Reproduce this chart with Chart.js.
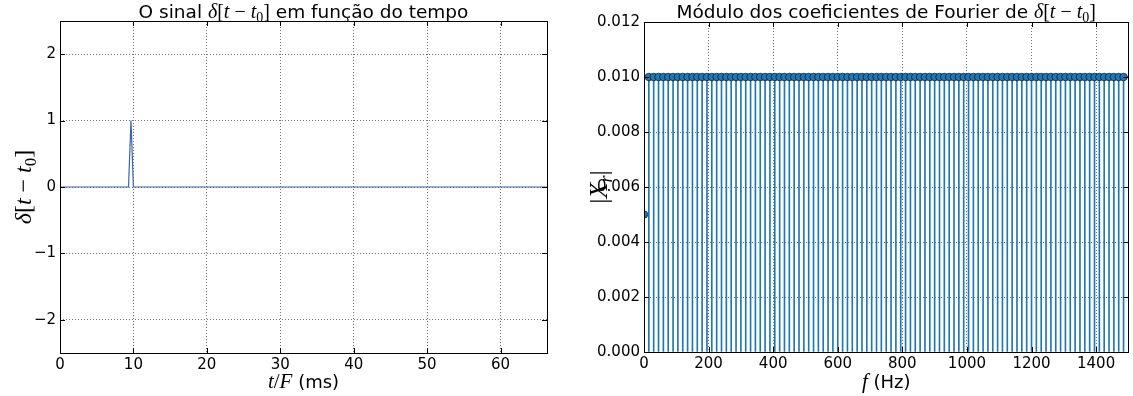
<!DOCTYPE html>
<html>
<head>
<meta charset="utf-8">
<script src="https://cdn.jsdelivr.net/npm/chart.js@4/dist/chart.umd.min.js"></script>
<style>
html,body{margin:0;padding:0;background:#fff;width:1133px;height:396px;overflow:hidden;}
canvas{position:absolute;top:0;}
#c1{left:0;}
#c2{left:566px;}
</style>
</head>
<body>
<canvas id="c1" width="560" height="396"></canvas>
<canvas id="c2" width="567" height="396"></canvas>
<script>
// ---- data ----
const timeMs = [0, 9.333, 9.667, 10.0, 66.333];
const signal = [0, 0, 1, 0, 0];
const freqHz = [0,15,30,45,60,75,90,105,120,135,150,165,180,195,210,225,240,255,270,285,
  300,315,330,345,360,375,390,405,420,435,450,465,480,495,510,525,540,555,570,585,
  600,615,630,645,660,675,690,705,720,735,750,765,780,795,810,825,840,855,870,885,
  900,915,930,945,960,975,990,1005,1020,1035,1050,1065,1080,1095,1110,1125,1140,1155,1170,1185,
  1200,1215,1230,1245,1260,1275,1290,1305,1320,1335,1350,1365,1380,1395,1410,1425,1440,1455,1470,1485];
const coefMag = [0.005,0.01,0.01,0.01,0.01,0.01,0.01,0.01,0.01,0.01,0.01,0.01,0.01,0.01,0.01,0.01,0.01,0.01,0.01,0.01,
  0.01,0.01,0.01,0.01,0.01,0.01,0.01,0.01,0.01,0.01,0.01,0.01,0.01,0.01,0.01,0.01,0.01,0.01,0.01,0.01,
  0.01,0.01,0.01,0.01,0.01,0.01,0.01,0.01,0.01,0.01,0.01,0.01,0.01,0.01,0.01,0.01,0.01,0.01,0.01,0.01,
  0.01,0.01,0.01,0.01,0.01,0.01,0.01,0.01,0.01,0.01,0.01,0.01,0.01,0.01,0.01,0.01,0.01,0.01,0.01,0.01,
  0.01,0.01,0.01,0.01,0.01,0.01,0.01,0.01,0.01,0.01,0.01,0.01,0.01,0.01,0.01,0.01,0.01,0.01,0.01,0.01];
const leftXTicks = [0,10,20,30,40,50,60];
const leftYTicks = [-2,-1,0,1,2];
const rightXTicks = [0,200,400,600,800,1000,1200,1400];
const rightYTicks = [0,0.002,0.004,0.006,0.008,0.010,0.012];

// ---- helpers ----
const SANS = '"DejaVu Sans", sans-serif';
const SERIF = '"Liberation Serif", "DejaVu Serif", serif';
function sans(sz){return sz+'px '+SANS;}
function it(sz){return 'italic '+sz+'px '+SERIF;}
function rm(sz){return sz+'px '+SERIF;}

function drawRich(ctx, segs, x, y, align, rot){
  ctx.save();
  ctx.translate(x,y);
  if(rot) ctx.rotate(rot);
  ctx.textBaseline='alphabetic';
  ctx.textAlign='left';
  ctx.fillStyle='#000';
  let w=0;
  segs.forEach(s=>{ctx.font=s.f; s.w=ctx.measureText(s.t).width; w+=s.w;});
  let cx = align==='center' ? -w/2 : 0;
  segs.forEach(s=>{ctx.font=s.f; ctx.fillText(s.t,cx,(s.dy||0)); cx+=s.w;});
  ctx.restore();
}

function deltaSegs(sz){
  return [
    {t:'δ',f:it(sz)},{t:'[',f:rm(sz)},{t:'t',f:it(sz)},{t:' − ',f:rm(sz)},
    {t:'t',f:it(sz)},{t:'0',f:rm(Math.round(sz*0.7)),dy:Math.round(sz*0.2)},{t:']',f:rm(sz)}
  ];
}

function framePlugin(extra){
  return {
    id:'frame',
    afterDraw(chart){
      const ctx=chart.ctx, a=chart.chartArea;
      const xs=chart.scales.x, ys=chart.scales.y;
      ctx.save();
      ctx.strokeStyle='#000';
      ctx.lineWidth=1;
      ctx.beginPath();
      xs.ticks.forEach(t=>{
        const p=Math.round(xs.getPixelForValue(t.value))+0.5;
        ctx.moveTo(p,a.bottom);ctx.lineTo(p,a.bottom-5);
        ctx.moveTo(p,a.top);ctx.lineTo(p,a.top+5);
      });
      ys.ticks.forEach(t=>{
        const p=Math.round(ys.getPixelForValue(t.value))+0.5;
        ctx.moveTo(a.left,p);ctx.lineTo(a.left+5,p);
        ctx.moveTo(a.right,p);ctx.lineTo(a.right-5,p);
      });
      ctx.stroke();
      ctx.strokeRect(Math.round(a.left)+0.5,Math.round(a.top)+0.5,Math.round(a.right-a.left),Math.round(a.bottom-a.top));
      ctx.restore();
      extra(chart);
    }
  };
}

function axisCommon(ticksArr, min, max, fmt){
  return {
    type:'linear', min:min, max:max,
    afterBuildTicks(scale){ scale.ticks = ticksArr.map(v=>({value:v})); },
    ticks:{ color:'#000', font:{family:SANS,size:15}, padding:4, maxRotation:0, autoSkip:false,
      callback:fmt },
    grid:{ color:'rgba(0,0,0,0.55)', lineWidth:1, drawTicks:false },
    border:{ display:false, dash:[1,2] }
  };
}

// ---- left chart ----
const leftX = axisCommon(leftXTicks, 0, 66.333, v=>String(v));
leftX.afterFit = s=>{s.height=43;};
leftX.ticks.padding = 3;
const leftY = axisCommon(leftYTicks, -2.5, 2.5, v=>String(v).replace('-','−'));
leftY.afterFit = s=>{s.width=60;};

new Chart(document.getElementById('c1'),{
  type:'scatter',
  data:{datasets:[{
    data: timeMs.map((t,i)=>({x:t,y:signal[i]})),
    showLine:true, borderColor:'#3865ab', borderWidth:1.2, pointRadius:0, tension:0
  }]},
  options:{
    responsive:false, animation:false, devicePixelRatio:1,
    layout:{padding:{top:21,right:13,left:0,bottom:0}},
    plugins:{legend:{display:false},tooltip:{enabled:false},title:{display:false}},
    scales:{x:leftX,y:leftY}
  },
  plugins:[framePlugin(chart=>{
    const ctx=chart.ctx, a=chart.chartArea;
    drawRich(ctx,[{t:'O sinal ',f:sans(18.5)}].concat(deltaSegs(20)).concat([{t:' em função do tempo',f:sans(18.5)}]),
      (a.left+a.right)/2,18,'center');
    drawRich(ctx,[{t:'t',f:it(21)},{t:'/',f:rm(21)},{t:'F',f:it(21)},{t:' (ms)',f:sans(18)}],
      (a.left+a.right)/2,388,'center');
    drawRich(ctx,deltaSegs(24),31,(a.top+a.bottom)/2,'center',-Math.PI/2);
  })]
});

// ---- right chart ----
const rightX = axisCommon(rightXTicks, 0, 1500, v=>String(v));
rightX.afterFit = s=>{s.height=44;};
rightX.ticks.padding = 3;
rightX.offset = false;
rightX.grid.offset = false;
const rightY = axisCommon(rightYTicks, 0, 0.012, v=>Number(v).toFixed(3));
rightY.afterFit = s=>{s.width=78;};

new Chart(document.getElementById('c2'),{
  type:'scatter',
  data:{datasets:[
    { type:'bar', order:2,
      data: freqHz.map((f,i)=>({x:f,y:coefMag[i]})),
      backgroundColor:'#1f77b4', borderWidth:0, barThickness:1, grouped:false },
    { type:'scatter', order:1,
      data: freqHz.map((f,i)=>({x:f,y:coefMag[i]})),
      pointRadius:3.8, pointBackgroundColor:'#1f77b4', pointBorderColor:'#000', pointBorderWidth:0.6 }
  ]},
  options:{
    responsive:false, animation:false, devicePixelRatio:1,
    layout:{padding:{top:22,right:3,left:0,bottom:0}},
    plugins:{legend:{display:false},tooltip:{enabled:false},title:{display:false}},
    scales:{x:rightX,y:rightY}
  },
  plugins:[framePlugin(chart=>{
    const ctx=chart.ctx, a=chart.chartArea;
    drawRich(ctx,[{t:'Módulo dos coeficientes de Fourier de ',f:sans(18.5)}].concat(deltaSegs(20)),
      (a.left+a.right)/2,18,'center');
    drawRich(ctx,[{t:'f',f:it(21)},{t:' (Hz)',f:sans(18)}],
      (a.left+a.right)/2,388,'center');
    drawRich(ctx,[{t:'|',f:rm(26)},{t:'X',f:it(26)},{t:'r',f:it(18),dy:5},{t:'|',f:rm(26)}],
      41,(a.top+a.bottom)/2,'center',-Math.PI/2);
  })]
});
</script>
</body>
</html>
